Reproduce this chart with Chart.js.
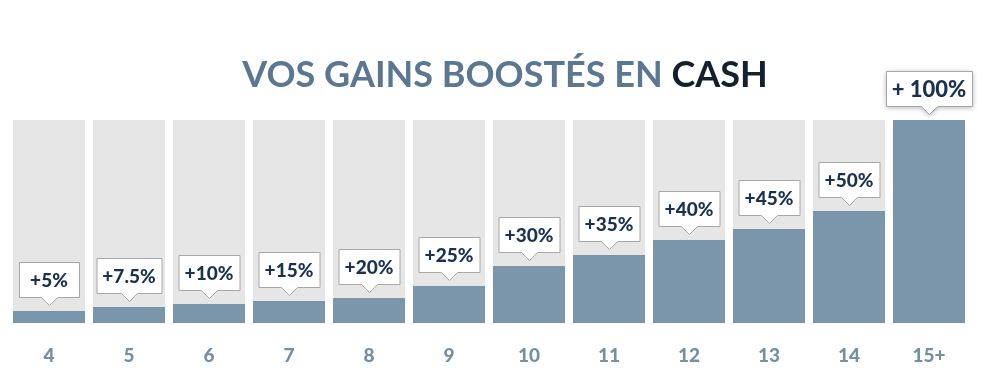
<!DOCTYPE html>
<html>
<head>
<meta charset="utf-8">
<script src="https://cdn.jsdelivr.net/npm/chart.js@4/dist/chart.umd.min.js"></script>
<style>
  html, body { margin: 0; padding: 0; background: #ffffff; }
  #wrap { width: 991px; height: 381px; position: relative; }
</style>
</head>
<body>
<div id="wrap"><canvas id="c"></canvas></div>
<script>
// ---- data ----
const categories = ['4', '5', '6', '7', '8', '9', '10', '11', '12', '13', '14', '15+'];
// visible bar heights, in % of the full track
const barHeights = [5.9, 7.9, 9.4, 10.8, 12.3, 18.2, 28.1, 33.5, 40.9, 46.3, 55.2, 100];
// background track (full height)
const trackValues = [100, 100, 100, 100, 100, 100, 100, 100, 100, 100, 100, 100];
// callout labels
const bonusLabels = ['+5%', '+7.5%', '+10%', '+15%', '+20%', '+25%', '+30%', '+35%', '+40%', '+45%', '+50%', '+ 100%'];
const titleMain = 'VOS GAINS BOOSTÉS EN ';
const titleAccent = 'CASH';

const FONT = 'Lato, "Open Sans", sans-serif';

const titlePlugin = {
  id: 'twoColourTitle',
  afterDraw(chart) {
    const ctx = chart.ctx;
    ctx.save();
    ctx.font = 'bold 36px ' + FONT;
    ctx.textBaseline = 'alphabetic';
    ctx.textAlign = 'left';
    const w1 = ctx.measureText(titleMain).width;
    const w2 = ctx.measureText(titleAccent).width;
    const x0 = 505 - (w1 + w2) / 2;
    ctx.fillStyle = '#5b7792';
    ctx.fillText(titleMain, x0, 87);
    ctx.fillStyle = '#14202c';
    ctx.fillText(titleAccent, x0 + w1, 87);
    ctx.restore();
  }
};

const calloutPlugin = {
  id: 'callouts',
  afterDatasetsDraw(chart) {
    const ctx = chart.ctx;
    const meta = chart.getDatasetMeta(0);
    const n = meta.data.length;
    meta.data.forEach((bar, i) => {
      const isLast = i === n - 1;
      const size = isLast ? 22 : 19;
      ctx.save();
      ctx.font = '900 ' + size + 'px ' + FONT;
      const tw = ctx.measureText(bonusLabels[i]).width;
      const w = Math.round(Math.max(60, tw + 12));
      const h = 35;
      const cx = Math.round(bar.x);
      const tipY = Math.round(bar.y) - 6;
      const bottom = tipY - 8;
      const top = bottom - h;
      const left = cx - w / 2;
      const right = cx + w / 2;
      ctx.beginPath();
      ctx.moveTo(left + 0.5, top + 0.5);
      ctx.lineTo(right + 0.5, top + 0.5);
      ctx.lineTo(right + 0.5, bottom + 0.5);
      ctx.lineTo(cx + 8.5, bottom + 0.5);
      ctx.lineTo(cx + 0.5, tipY + 0.5);
      ctx.lineTo(cx - 7.5, bottom + 0.5);
      ctx.lineTo(left + 0.5, bottom + 0.5);
      ctx.closePath();
      if (isLast) {
        ctx.shadowColor = 'rgba(0,0,0,0.35)';
        ctx.shadowBlur = 5;
        ctx.shadowOffsetY = 1;
      }
      ctx.fillStyle = '#ffffff';
      ctx.fill();
      ctx.shadowColor = 'transparent';
      ctx.strokeStyle = '#a8a8a8';
      ctx.lineWidth = 1;
      ctx.stroke();
      ctx.fillStyle = '#1a3150';
      ctx.textAlign = 'center';
      ctx.textBaseline = 'middle';
      ctx.fillText(bonusLabels[i], cx, top + h / 2 + 1);
      ctx.restore();
    });
  }
};

new Chart(document.getElementById('c'), {
  type: 'bar',
  data: {
    labels: categories,
    datasets: [
      {
        data: barHeights,
        backgroundColor: '#7b96ab',
        borderWidth: 0,
        grouped: false,
        order: 0,
        categoryPercentage: 0.9,
        barPercentage: 1.0
      },
      {
        data: trackValues,
        backgroundColor: '#e6e6e6',
        borderWidth: 0,
        grouped: false,
        order: 1,
        categoryPercentage: 0.9,
        barPercentage: 1.0
      }
    ]
  },
  options: {
    responsive: true,
    maintainAspectRatio: false,
    animation: false,
    layout: { padding: { left: 9, right: 22, top: 120, bottom: 0 } },
    plugins: {
      legend: { display: false },
      tooltip: { enabled: false },
      title: { display: false }
    },
    scales: {
      x: {
        grid: { display: false, drawTicks: false },
        border: { display: false },
        afterFit(scale) { scale.height = 58; },
        ticks: {
          color: '#7490a8',
          padding: 21,
          maxRotation: 0,
          autoSkip: false,
          font: { family: FONT, weight: '900', size: 19 }
        }
      },
      y: { display: false, min: 0, max: 100 }
    }
  },
  plugins: [calloutPlugin, titlePlugin]
});
</script>
</body>
</html>
